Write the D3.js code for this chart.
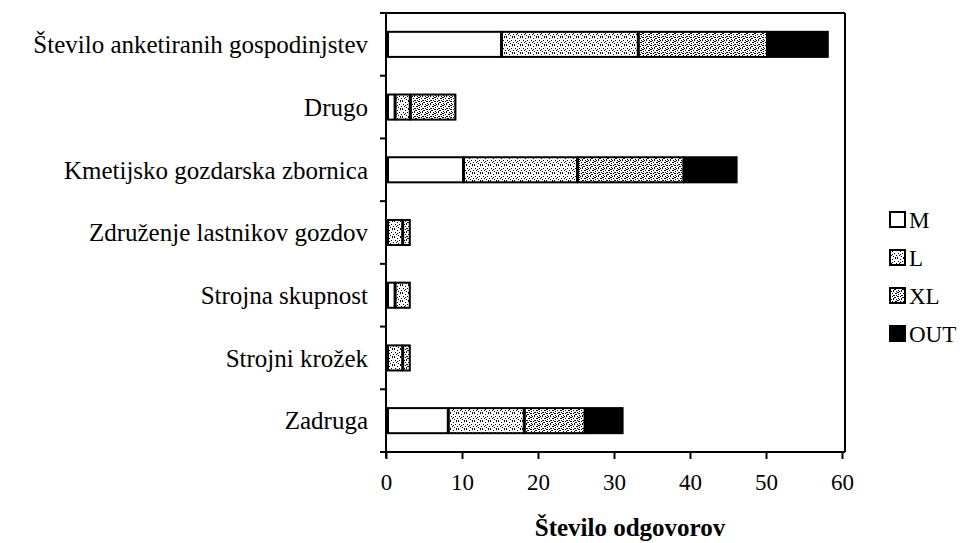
<!DOCTYPE html>
<html>
<head>
<meta charset="utf-8">
<script src="https://cdn.jsdelivr.net/npm/d3@7"></script>
<style>
  body { margin: 0; background: #fff; }
</style>
</head>
<body>
<svg id="chart" width="970" height="543"></svg>
<script>
// categories top to bottom
const categories = [
  "Število anketiranih gospodinjstev",
  "Drugo",
  "Kmetijsko gozdarska zbornica",
  "Združenje lastnikov gozdov",
  "Strojna skupnost",
  "Strojni krožek",
  "Zadruga"
];
const seriesNames = ["M", "L", "XL", "OUT"];
const valuesM   = [15, 1, 10, 0, 1, 0, 8];
const valuesL   = [18, 2, 15, 2, 2, 2, 10];
const valuesXL  = [17, 6, 14, 1, 0, 1, 8];
const valuesOUT = [8, 0, 7, 0, 0, 0, 5];
const xTicks = [0, 10, 20, 30, 40, 50, 60];

const FONT = "'Liberation Serif', 'Times New Roman', 'DejaVu Serif', serif";
const margin = { top: 13, right: 125, bottom: 91, left: 386 };
const innerW = 842 - margin.left;
const innerH = 452 - margin.top;

const svg = d3.select("#chart");

// fill patterns (stipple look)
const defs = svg.append("defs");
function stipple(id, dots, size) {
  const p = defs.append("pattern")
    .attr("id", id)
    .attr("patternUnits", "userSpaceOnUse")
    .attr("width", size).attr("height", size);
  p.append("rect").attr("width", size).attr("height", size).attr("fill", "#fff");
  dots.forEach(d => p.append("rect")
    .attr("x", d[0]).attr("y", d[1]).attr("width", d[2] || 1).attr("height", d[3] || 1)
    .attr("fill", "#000"));
}
stipple("patL", [[0,0],[3,1],[6,0],[1,3],[5,3],[2,5],[7,5],[4,6],[0,7],[6,7],[3,4]], 8);
stipple("patXL", [[0,0,2,1],[3,0],[5,1,2,1],[1,2],[4,2,1,2],[7,3],[0,4,2,1],[3,5],[6,5,2,1],[1,6],[4,7,2,1],[7,7],[2,3]], 8);

const fills = { M: "#fff", L: "url(#patL)", XL: "url(#patXL)", OUT: "#000" };

const data = categories.map((c, i) => ({
  name: c, M: valuesM[i], L: valuesL[i], XL: valuesXL[i], OUT: valuesOUT[i]
}));
const stacked = d3.stack().keys(seriesNames)(data);

const x = d3.scaleLinear().domain([0, 60]).range([0, innerW]);
const y = d3.scaleBand().domain(categories).range([0, innerH]).paddingInner(0.6).paddingOuter(0.3);

const g = svg.append("g").attr("transform", `translate(${margin.left},${margin.top})`);

// frame: top and right lines
g.append("line").attr("x1", -6).attr("x2", innerW + 3).attr("y1", 0).attr("y2", 0)
  .attr("stroke", "#000").attr("stroke-width", 2);
g.append("line").attr("x1", innerW + 3).attr("x2", innerW + 3).attr("y1", 0).attr("y2", innerH)
  .attr("stroke", "#000").attr("stroke-width", 2);

// bars
stacked.forEach(s => {
  g.selectAll(null)
    .data(s.filter(d => d[1] - d[0] > 0))
    .join("rect")
    .attr("x", d => x(d[0]) + 2)
    .attr("y", d => y(d.data.name))
    .attr("width", d => Math.max(x(d[1]) - x(d[0]) - 1, 1))
    .attr("height", y.bandwidth())
    .attr("fill", fills[s.key])
    .attr("stroke", "#000")
    .attr("stroke-width", 2);
});

// left axis with ticks at category boundaries
g.append("line").attr("x1", 0).attr("x2", 0).attr("y1", 0).attr("y2", innerH + 6)
  .attr("stroke", "#000").attr("stroke-width", 2);
const step = innerH / categories.length;
d3.range(categories.length + 1).forEach(i => {
  g.append("line").attr("x1", -6).attr("x2", 0).attr("y1", i * step).attr("y2", i * step)
    .attr("stroke", "#000").attr("stroke-width", 2);
});
g.selectAll(".cat")
  .data(categories)
  .join("text")
  .attr("class", "cat")
  .attr("x", -18)
  .attr("y", d => y(d) + y.bandwidth() / 2)
  .attr("dy", "0.35em")
  .attr("text-anchor", "end")
  .style("font-family", FONT)
  .style("font-size", "25px")
  .text(d => d);

// bottom axis
const xAxis = g.append("g")
  .attr("transform", `translate(0,${innerH})`)
  .call(d3.axisBottom(x).tickValues(xTicks).tickSize(7).tickSizeOuter(0).tickPadding(15));
xAxis.select(".domain").attr("stroke-width", 2).attr("d", `M-6,0H${innerW + 3}`);
xAxis.selectAll(".tick line").attr("stroke-width", 2);
xAxis.selectAll(".tick text")
  .style("font-family", FONT)
  .style("font-size", "23px")
  .attr("fill", "#000");

svg.append("text")
  .attr("x", 630)
  .attr("y", 536)
  .attr("text-anchor", "middle")
  .style("font-family", FONT)
  .style("font-size", "25px")
  .style("font-weight", "bold")
  .text("Število odgovorov");

// legend
const legend = svg.append("g").attr("transform", "translate(889,212)");
seriesNames.forEach((k, i) => {
  const row = legend.append("g").attr("transform", `translate(0,${i * 38})`);
  row.append("rect").attr("x", 1).attr("y", 0).attr("width", 15).attr("height", 15)
    .attr("fill", fills[k]).attr("stroke", "#000").attr("stroke-width", 2);
  row.append("text").attr("x", 20).attr("y", 8).attr("dy", "0.35em")
    .style("font-family", FONT)
    .style("font-size", "23px").text(k);
});
</script>
</body>
</html>
